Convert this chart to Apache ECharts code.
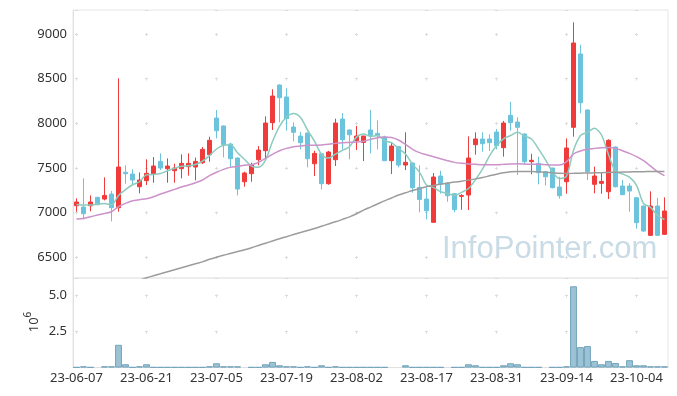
<!DOCTYPE html>
<html>
<head>
<meta charset="utf-8">
<script src="https://cdn.jsdelivr.net/npm/echarts@6/dist/echarts.min.js"></script>
<style>
html,body{margin:0;padding:0;background:#fff;}
#chart{width:677px;height:396px;}
</style>
</head>
<body>
<div id="chart"></div>
<script>
const dates = ['23-06-07','23-06-08','23-06-09','23-06-12','23-06-13','23-06-14','23-06-15','23-06-16','23-06-19','23-06-20',
'23-06-21','23-06-22','23-06-23','23-06-26','23-06-27','23-06-28','23-06-29','23-06-30','23-07-03','23-07-04',
'23-07-05','23-07-06','23-07-07','23-07-10','23-07-11','23-07-12','23-07-13','23-07-14','23-07-17','23-07-18',
'23-07-19','23-07-20','23-07-21','23-07-24','23-07-25','23-07-26','23-07-27','23-07-28','23-07-31','23-08-01',
'23-08-02','23-08-03','23-08-04','23-08-07','23-08-08','23-08-09','23-08-10','23-08-11','23-08-14','23-08-16',
'23-08-17','23-08-18','23-08-21','23-08-22','23-08-23','23-08-24','23-08-25','23-08-28','23-08-29','23-08-30',
'23-08-31','23-09-01','23-09-04','23-09-05','23-09-06','23-09-07','23-09-08','23-09-11','23-09-12','23-09-13',
'23-09-14','23-09-15','23-09-18','23-09-19','23-09-20','23-09-21','23-09-22','23-09-25','23-09-26','23-09-27',
'23-10-04','23-10-05','23-10-06','23-10-10','23-10-11'];

const openP = [7075,7060,7075,7169,7150,7206,7053,7449,7430,7288,7356,7434,7572,7490,7468,7490,7513,7509,7557,7647,
8058,7969,7767,7610,7344,7434,7591,7692,8006,8428,8294,7957,7856,7890,7546,7658,7322,7591,8047,7924,
7804,7785,7924,7886,7845,7580,7737,7531,7554,7281,7150,6889,7408,7329,7210,7180,7195,7759,7823,7823,
7901,7726,8088,8013,7879,7569,7550,7457,7498,7285,7344,7954,8776,8148,7315,7326,7232,7733,7296,7296,
7165,7072,6743,7072,6754];
const closeP = [7117,6986,7117,7087,7191,7053,7509,7434,7363,7363,7438,7520,7498,7520,7498,7550,7550,7572,7707,7808,
7916,7759,7602,7262,7442,7531,7699,8002,8305,8286,8051,7898,7782,7602,7662,7322,7677,8002,7815,7871,
7856,7856,7864,7864,7580,7744,7531,7561,7277,7146,7019,7397,7322,7187,7031,7190,7610,7823,7770,7782,
7748,8002,8006,7954,7569,7584,7445,7400,7277,7187,7722,8899,8230,7457,7408,7348,7808,7288,7199,7240,
6885,6791,7072,6743,7016];
const lowP = [7008,6922,7012,7079,7135,6900,7008,7322,7307,7214,7307,7333,7475,7333,7333,7382,7412,7359,7543,7569,
7830,7617,7498,7191,7288,7344,7528,7602,7924,8010,7916,7797,7707,7505,7408,7258,7310,7520,7707,7595,
7699,7576,7662,7707,7575,7430,7505,7475,7221,7001,6922,6885,7210,7120,7001,7030,7027,7647,7681,7688,
7707,7625,7916,7419,7539,7427,7315,7303,7270,7154,7210,7849,8111,7363,7214,7210,7150,7280,7195,7008,
6818,6785,6740,6740,6750];
const highP = [7158,7382,7191,7175,7393,7240,8503,7528,7483,7449,7595,7621,7662,7606,7546,7651,7662,7614,7733,7849,
8148,7975,7780,7615,7457,7557,7744,8077,8380,8435,8391,8010,7901,7895,7692,7665,7690,8051,8114,7930,
7969,7860,8148,8032,7860,7782,7745,7898,7560,7528,7277,7442,7468,7340,7215,7205,7853,7898,7898,7875,
7935,8025,8238,8066,7885,7658,7625,7460,7500,7400,7830,9131,8880,8155,7513,7445,7820,7740,7363,7326,
7170,7075,7236,7161,7169];

const ma5 = [7090,7083,7083,7094,7100,7087,7191,7255,7310,7344,7421,7424,7436,7468,7495,7517,7523,7538,7575,7637,
7711,7752,7758,7669,7596,7519,7507,7587,7796,7965,8069,8108,8064,7924,7799,7653,7609,7653,7696,7737,
7844,7880,7852,7862,7804,7782,7717,7656,7539,7452,7307,7280,7232,7214,7191,7225,7268,7368,7485,7635,
7747,7825,7862,7898,7856,7823,7712,7590,7455,7379,7406,7697,7863,7899,7943,7868,7650,7462,7430,7396,
7304,7100,7057,6966,6921];
const ma20 = [6926,6933,6952,6971,6989,7008,7064,7102,7131,7143,7154,7176,7206,7232,7258,7285,7307,7333,7363,7412,
7450,7483,7505,7516,7528,7535,7561,7606,7651,7692,7718,7737,7744,7752,7752,7756,7763,7774,7782,7785,
7789,7797,7819,7838,7845,7841,7812,7763,7707,7670,7647,7625,7602,7580,7561,7550,7543,7539,7535,7535,
7535,7539,7543,7546,7543,7539,7539,7535,7531,7531,7569,7655,7688,7707,7718,7726,7729,7718,7692,7662,
7625,7580,7520,7457,7412];
const ma60 = [null,null,null,null,null,null,null,null,null,6240,6267,6290,6312,6335,6358,6380,6402,6424,6446,6475,
6498,6520,6540,6562,6582,6605,6630,6655,6680,6705,6728,6752,6775,6798,6820,6845,6870,6895,6922,6950,
6985,7025,7060,7095,7130,7162,7195,7220,7245,7268,7288,7302,7316,7328,7340,7350,7362,7376,7392,7410,
7428,7444,7456,7460,7460,7458,7455,7450,7444,7438,7437,7438,7440,7442,7444,7446,7448,7450,7452,7454,
7456,7457,7458,7459,7460];

// volume in millions of shares
const volume = [0.03,0.09,0.03,null,0.09,0.09,1.57,0.23,0.03,0.09,0.23,0.03,0.03,0.03,0.03,0.03,0.03,0.03,0.03,0.09,
0.30,0.09,0.09,0.09,null,0.03,0.03,0.23,0.39,0.16,0.09,0.09,0.03,0.09,0.03,0.16,0.03,0.09,0.03,0.03,
0.03,0.03,0.03,0.03,0.03,null,null,0.16,0.03,0.03,0.03,0.03,0.03,null,0.03,0.03,0.23,0.16,0.03,0.03,
0.03,0.16,0.30,0.23,0.03,0.03,0.03,null,0.03,0.03,0.09,5.60,1.41,1.48,0.46,0.23,0.46,0.32,0.09,0.51,
0.16,0.16,0.09,0.09,0.09];

const RED = '#f03b3b', BLUE = '#6cc3dc';
const GRIDC = '#dcdcdc';
const FONT = 'Noto Sans';

const chart = echarts.init(document.getElementById('chart'), null, {renderer: 'canvas'});
const candleData = openP.map((o, i) => [o, closeP[i], lowP[i], highP[i]]);

chart.setOption({
  animation: false,
  backgroundColor: '#fff',
  textStyle: {fontFamily: FONT},
  grid: [
    {left: 73, top: 10, width: 595, height: 268, show: true, borderColor: '#e6e6e6', borderWidth: 1, backgroundColor: 'transparent'},
    {left: 73, top: 278, width: 595, height: 89.6, show: true, borderColor: '#e6e6e6', borderWidth: 1, backgroundColor: 'transparent'}
  ],
  xAxis: [
    {type: 'category', gridIndex: 0, data: dates, boundaryGap: true,
     axisLine: {show: false}, axisTick: {show: false}, axisLabel: {show: false},
     splitLine: {show: true, interval: 9, alignWithLabel: true,
       lineStyle: {color: GRIDC, width: 1, type: [3, 41.6], dashOffset: 21.6}}},
    {type: 'category', gridIndex: 1, data: dates, boundaryGap: true,
     axisLine: {show: true, lineStyle: {color: '#e0e0e0'}}, axisTick: {show: false},
     axisLabel: {show: true, interval: 9, color: '#333', fontSize: 13, fontFamily: FONT, margin: 4},
     splitLine: {show: true, interval: 9, alignWithLabel: true,
       lineStyle: {color: GRIDC, width: 1, type: [3, 33.3], dashOffset: 19.8}}}
  ],
  yAxis: [
    {type: 'value', gridIndex: 0, min: 6265, max: 9269, splitNumber: 5, scale: true,
     axisLine: {show: true, lineStyle: {color: '#e0e0e0'}}, axisTick: {show: false},
     axisLabel: {color: '#333', fontSize: 13, fontFamily: FONT, margin: 6, showMinLabel: false, showMaxLabel: false,
       formatter: v => String(Math.round(v))},
     splitLine: {show: true, lineStyle: {color: GRIDC, width: 1, type: [3, 67], dashOffset: 68}}},
    {type: 'value', gridIndex: 1, min: 0, max: 6.17, interval: 2.5,
     axisLine: {show: true, lineStyle: {color: '#e0e0e0'}}, axisTick: {show: false},
     axisLabel: {color: '#333', fontSize: 13, fontFamily: FONT, margin: 6, showMinLabel: false, showMaxLabel: false,
       formatter: v => v.toFixed(1)},
     splitLine: {show: true, lineStyle: {color: GRIDC, width: 1, type: [3, 67], dashOffset: 68}}}
  ],
  graphic: [
    {type: 'text', left: 442, top: 234, z: 0, silent: true,
     style: {text: 'InfoPointer.com', font: '31px "Liberation Sans"', fill: '#c9dbe5'}},
    {type: 'text', x: 32, y: 322, rotation: Math.PI / 2, silent: true,
     style: {text: '{a|10}{b|6}', align: 'center', verticalAlign: 'middle',
       rich: {
         a: {fontSize: 13, fontFamily: FONT, fill: '#333', color: '#333', lineHeight: 18, verticalAlign: 'bottom'},
         b: {fontSize: 10, fontFamily: FONT, fill: '#333', color: '#333', lineHeight: 18, verticalAlign: 'top'}
       }}}
  ],
  series: [
    {name: 'candle', type: 'candlestick', xAxisIndex: 0, yAxisIndex: 0, data: candleData, barWidth: 5, z: 3,
     itemStyle: {color: RED, color0: BLUE, borderColor: RED, borderColor0: BLUE, borderWidth: 1}},
    {name: 'MA5', type: 'line', xAxisIndex: 0, yAxisIndex: 0, data: ma5, showSymbol: false, smooth: 0.3, z: 4,
     lineStyle: {color: '#8ccbbf', width: 1.5}},
    {name: 'MA20', type: 'line', xAxisIndex: 0, yAxisIndex: 0, data: ma20, showSymbol: false, smooth: 0.3, z: 4,
     lineStyle: {color: '#cc92c9', width: 1.5}},
    {name: 'MA60', type: 'line', xAxisIndex: 0, yAxisIndex: 0, data: ma60, showSymbol: false, smooth: 0.3, z: 4,
     lineStyle: {color: '#9c9c9c', width: 1.5}},
    {name: 'volume', type: 'bar', xAxisIndex: 1, yAxisIndex: 1, data: volume, barCategoryGap: '2%',
     itemStyle: {color: '#9cc3d5', borderColor: '#72a4bb', borderWidth: 1}}
  ]
});
</script>
</body>
</html>
